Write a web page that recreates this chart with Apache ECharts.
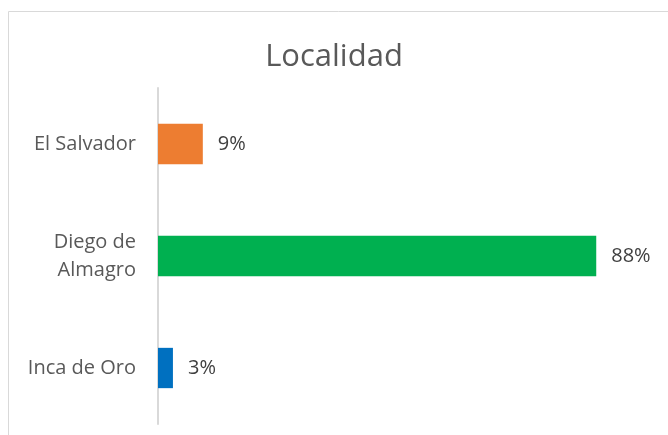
<!DOCTYPE html>
<html><head><meta charset="utf-8">
<script src="https://cdn.jsdelivr.net/npm/echarts@6/dist/echarts.min.js"></script>
<style>html,body{margin:0;padding:0;background:#fff}#c{width:668px;height:435px}</style>
</head><body><div id="c"></div>
<script>
const categories = ['Inca de Oro', 'Diego de\nAlmagro', 'El Salvador'];
const values = [3, 88, 9];
const colors = ['#0070C0', '#00B050', '#ED7D31'];
const title = 'Localidad';

const chart = echarts.init(document.getElementById('c'));
chart.setOption({
  animation: false,
  title: {
    text: title, left: 'center', top: 37,
    textStyle: { fontFamily: 'Open Sans', fontWeight: 'normal', fontSize: 31, color: '#595959' }
  },
  graphic: [{
    type: 'rect', shape: { x: 8.5, y: 11.5, width: 700, height: 500 },
    style: { fill: 'none', stroke: '#d9d9d9', lineWidth: 1 }, silent: true, z: -1
  }],
  grid: { left: 158, top: 88, width: 498, height: 336 },
  xAxis: { type: 'value', min: 0, max: 100, show: false },
  yAxis: {
    type: 'category', data: categories,
    axisLine: { show: true, lineStyle: { color: '#d9d9d9', width: 2 } },
    axisTick: { show: false },
    axisLabel: { fontFamily: 'Open Sans', fontSize: 20, color: '#595959', margin: 22, align: 'right', lineHeight: 28 }
  },
  series: [{
    type: 'bar', barCategoryGap: '64%',
    data: values.map((v, i) => ({ value: v, itemStyle: { color: colors[i] } })),
    label: {
      show: true, position: 'right', distance: 15, formatter: p => p.value + '%',
      fontFamily: 'Open Sans', fontSize: 20, color: '#404040'
    }
  }]
});
</script></body></html>
